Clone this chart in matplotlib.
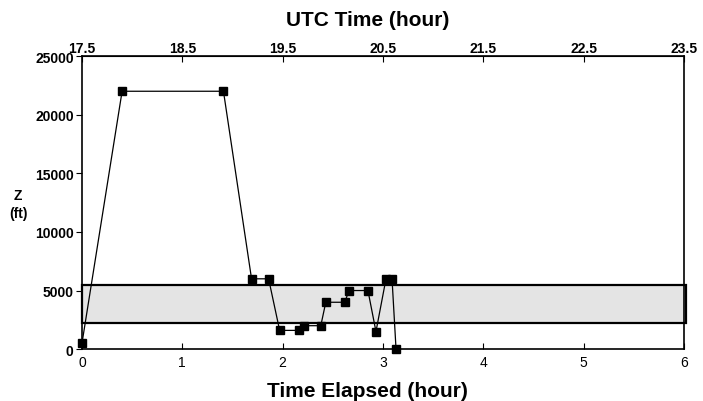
import matplotlib
matplotlib.use("Agg")
import matplotlib.pyplot as plt
from matplotlib.patches import Rectangle

plt.rcParams["font.family"] = ["Liberation Sans", "DejaVu Sans"]

# elapsed time (hour) and altitude Z (ft)
elapsed = [0.0, 0.40, 1.41, 1.69, 1.86, 1.97, 2.16, 2.21, 2.38, 2.43, 2.62,
           2.66, 2.85, 2.93, 3.03, 3.09, 3.13]
altitude = [500, 22000, 22000, 6000, 6000, 1600, 1600, 2000, 2000, 4000, 4000,
            5000, 5000, 1500, 6000, 6000, 0]

band_low = 2200
band_high = 5450
utc_start = 17.5

x_ticks = [0, 1, 2, 3, 4, 5, 6]
y_ticks = [0, 5000, 10000, 15000, 20000, 25000]
utc_ticks = [17.5, 18.5, 19.5, 20.5, 21.5, 22.5, 23.5]

fig = plt.figure(figsize=(7.03, 4.02), dpi=100)
ax = fig.add_axes([0.1166, 0.129, 0.8564, 0.729])

ax.add_patch(Rectangle((0, band_low), 6.02, band_high - band_low,
                       facecolor="#e4e4e4", edgecolor="black", linewidth=1.6,
                       clip_on=False, zorder=1))

ax.plot(elapsed, altitude, color="black", linewidth=0.9, marker="s",
        markersize=6, markerfacecolor="black", zorder=3, clip_on=False)

ax.set_xlim(0, 6)
ax.set_ylim(0, 25000)
ax.set_xticks(x_ticks)
ax.set_yticks(y_ticks)
ax.set_xticklabels([str(v) for v in x_ticks], fontsize=10)
ax.set_yticklabels([str(v) for v in y_ticks], fontsize=10, fontweight="bold")
ax.tick_params(axis="x", direction="in", length=4, pad=4)
ax.tick_params(axis="y", direction="out", length=4, pad=2)

for s in ax.spines.values():
    s.set_linewidth(1.2)

top = ax.secondary_xaxis("top", functions=(lambda x: x + utc_start,
                                           lambda x: x - utc_start))
top.set_xticks(utc_ticks)
top.set_xticklabels([str(v) for v in utc_ticks], fontsize=10, fontweight="bold")
top.tick_params(direction="in", length=4, pad=1)

fig.text(0.523, 0.950, "UTC Time (hour)", fontsize=15, fontweight="bold",
         ha="center", va="center")
fig.text(0.523, 0.025, "Time Elapsed (hour)", fontsize=15, fontweight="bold",
         ha="center", va="center")
fig.text(0.026, 0.49, "Z\n(ft)", fontsize=10, fontweight="bold",
         ha="center", va="center", linespacing=1.3)

fig.savefig("out.png", dpi=100)
